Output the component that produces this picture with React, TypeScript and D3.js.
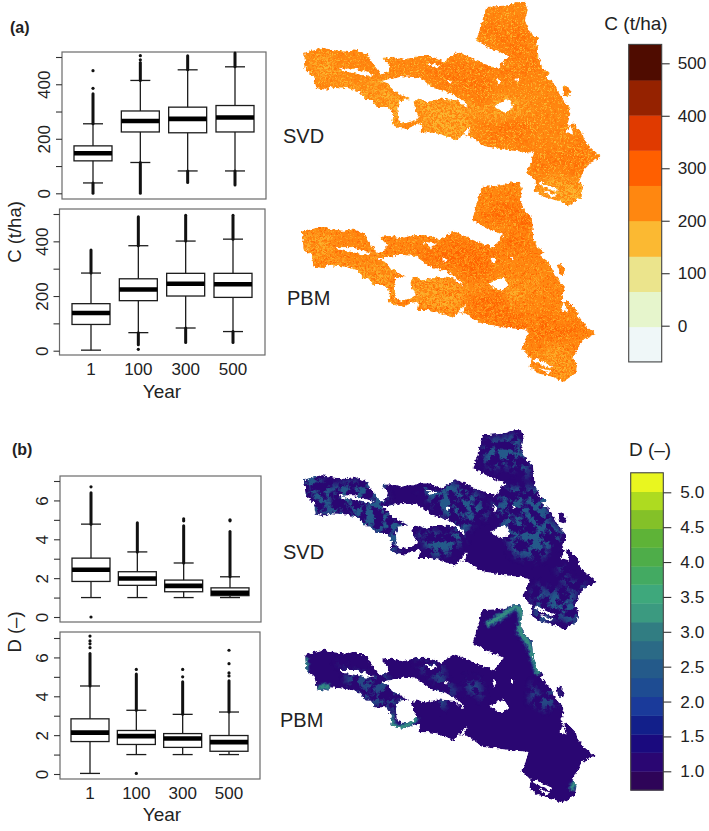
import React, { useEffect, useRef } from 'react';
import * as d3 from 'd3';

const years = ['1', '100', '300', '500'];

// each box: [lower whisker, q1, median, q3, upper whisker]
const cSvdBoxes = [[38, 119, 147, 174, 255], [113, 225, 265, 302, 414], [82, 222, 273, 316, 453], [82, 225, 278, 322, 464]];
const cPbmBoxes = [[2, 96, 138, 172, 284], [66, 183, 224, 263, 384], [83, 200, 245, 283, 401], [70, 195, 243, 283, 408]];
const dSvdBoxes = [[1, 1.83, 2.43, 3.03, 4.78], [1, 1.63, 1.98, 2.33, 3.35], [1, 1.3, 1.6, 1.9, 2.78], [1, 1.1, 1.25, 1.5, 2.07]];
const dPbmBoxes = [[0.03, 1.67, 2.13, 2.84, 4.53], [1, 1.52, 1.95, 2.24, 3.28], [1, 1.37, 1.83, 2.08, 3.07], [1, 1.17, 1.64, 1.98, 3.19]];

// stretches where the outliers overlap into a solid bar, per year
const cSvdRuns = [[[255, 365], [0, 38]], [[414, 480], [0, 113]], [[453, 505], [40, 82]], [[464, 515], [30, 82]]];
const cPbmRuns = [[[284, 368]], [[384, 490], [22, 66]], [[401, 495], [30, 83]], [[408, 495], [30, 70]]];
const dSvdRuns = [[[4.78, 6.4]], [[3.35, 4.85]], [[2.78, 4.7]], [[2.07, 4.4]]];
const dPbmRuns = [[[4.53, 6.2]], [[3.28, 5.15]], [[3.07, 4.75]], [[3.19, 4.8]]];

// single outliers, per year
const cSvdDots = [[385, 450], [490, 505], [], []];
const cPbmDots = [[], [5], [], []];
const dSvdDots = [[0, 6.7], [], [4.95, 5.05], [4.95, 5]];
const dPbmDots = [[6.5, 6.7, 6.85, 7.1], [0.03, 5.38], [5, 5.38], [5.05, 5.2, 5.68, 6.37]];

const cTicks = [0, 100, 200, 300, 400, 500];
const cTickLabels = [0, 200, 400];
const dTicks = [0, 1, 2, 3, 4, 5, 6, 7];
const dTickLabels = [0, 2, 4, 6];

const cLegendBreaks = [-69, -2, 65, 132, 200, 267, 334, 401, 468, 536];
const cLegendColors = ['#eff7f8', '#e6f5cc', '#ebe48c', '#fbb932', '#ff8710', '#ff5f00', '#e03a00', '#952200', '#4f0c00'];
const cLegendTicks = [0, 100, 200, 300, 400, 500];

const dLegendBreaks = [0.73, 1.0, 1.27, 1.53, 1.8, 2.07, 2.34, 2.61, 2.87, 3.14, 3.41, 3.68, 3.94, 4.21, 4.48, 4.75, 5.01, 5.28];
const dLegendColors = ['#2e0458', '#2a0672', '#1a0a7e', '#121f8a', '#1a3a9a', '#1e4c92', '#245a8a', '#2b6a86', '#317d82', '#3b9a80', '#3ea87c', '#43aa62', '#4ead49', '#5eb337', '#84c128', '#aedb20', '#e9f61f'];
const dLegendTicks = [1, 1.5, 2, 2.5, 3, 3.5, 4, 4.5, 5];

// the forest, in map units
const forestOutline = [
  [575, 50], [610, 48], [640, 45], [665, 36], [690, 35], [698, 60], [690, 90], [705, 125], [725, 140], [728, 170], [730, 200], [745, 235], [765, 245], [750, 255], [775, 275], [800, 320], [825, 350], [815, 390], [822, 398], [830, 390], [860, 420], [865, 440], [885, 465], [918, 492], [880, 510], [862, 540], [850, 565], [862, 580], [858, 610], [820, 635], [790, 622], [745, 610], [718, 592], [722, 565], [693, 535], [703, 520], [715, 480], [640, 472], [570, 460], [525, 430], [505, 425], [490, 445], [440, 425], [410, 420], [380, 420], [385, 395], [360, 400], [340, 410], [310, 405], [295, 395], [300, 370], [285, 345], [250, 345], [235, 325], [220, 325], [200, 300], [165, 290], [115, 285], [100, 295], [70, 290], [65, 255], [40, 235], [35, 185], [90, 170], [125, 178], [165, 182], [185, 175], [225, 190], [235, 210], [260, 245], [262, 250], [285, 240], [290, 225], [268, 200], [300, 197], [330, 205], [375, 195], [410, 195], [450, 210], [490, 182], [520, 195], [550, 210], [610, 232], [640, 195], [600, 180], [545, 150], [560, 100],
];
const channelHole = [
  [265, 268], [330, 255], [375, 258], [420, 290], [470, 305], [510, 330], [520, 350], [490, 325], [440, 320], [400, 330], [375, 320], [360, 330], [365, 355], [378, 375], [360, 385], [335, 392], [315, 385], [312, 350], [318, 325], [350, 322], [320, 305], [300, 295], [285, 275],
];
const smallHoles = [
  [[140, 232], [185, 232], [245, 250], [225, 255], [185, 245], [150, 240]],
  [[600, 340], [640, 320], [655, 345], [635, 362], [600, 345]],
  [[503, 426], [528, 402], [518, 432]],
  [[810, 420], [824, 396], [832, 426]],
  [[605, 262], [618, 270], [610, 282]],
  [[660, 262], [672, 262], [668, 274]],
  [[735, 565], [790, 590], [780, 595], [730, 572]],
  [[745, 590], [785, 605], [770, 610]],
  [[400, 215], [440, 222], [420, 230]],
  [[455, 265], [475, 270], [465, 276]],
];
const satelliteRing = [[800, 285], [812, 282], [826, 298], [820, 316], [806, 312]];

// patches of the carbon maps
const cLightPatches = [
  [[35, 185], [130, 190], [140, 260], [120, 290], [60, 290], [35, 240]],
  [[130, 250], [240, 290], [350, 320], [310, 410], [280, 400], [235, 330], [130, 285]],
  [[360, 320], [520, 330], [520, 430], [380, 425]],
  [[515, 340], [600, 310], [720, 320], [690, 380], [650, 365], [530, 360]],
  [[720, 550], [860, 560], [860, 640], [780, 630]],
  [[245, 240], [300, 240], [300, 270], [245, 270]],
];
const cDarkPatches = [
  [[380, 215], [520, 215], [610, 240], [610, 310], [520, 310], [420, 270]],
  [[530, 370], [640, 370], [710, 400], [715, 475], [570, 460]],
  [[620, 200], [730, 195], [745, 240], [640, 260]],
  [[560, 130], [690, 110], [720, 180], [640, 180]],
  [[720, 470], [860, 440], [880, 510], [830, 540], [720, 530]],
];
const cBaseValue = 235;
const cLightValue = 170;
const cSpeckleValue = 170;
const cDarkValue = 290;

// patches of the D maps
const dSvdPatches = [
  [[35, 190], [240, 190], [350, 320], [310, 410], [200, 320], [60, 290]],
  [[570, 45], [700, 35], [730, 200], [640, 170], [560, 110]],
  [[620, 190], [750, 230], [830, 360], [780, 420], [640, 370]],
  [[380, 195], [530, 195], [600, 290], [520, 340], [440, 290]],
  [[370, 330], [510, 330], [500, 420], [400, 410]],
  [[700, 530], [860, 520], [860, 620], [740, 610]],
  [[790, 450], [900, 480], [860, 530]],
];
const dPbmPatches = [
  [[125, 220], [290, 280], [350, 320], [300, 350], [200, 290]],
  [[720, 260], [810, 340], [800, 370], [720, 330]],
  [[510, 230], [580, 270], [570, 310], [510, 300]],
  [[370, 200], [440, 200], [500, 310], [440, 320]],
];
const dPbmEdgeStrips = [
  [[588, 95], [639, 65], [680, 40], [695, 70], [690, 115], [715, 150], [745, 245]],
  [[35, 195], [36, 240]],
  [[75, 285], [111, 282]],
  [[294, 365], [304, 400], [334, 405], [375, 375]],
  [[857, 570], [847, 595]],
];
const dBaseValue = 1.15;
const dPatchValue = 2.4;
const dHaloValue = 2.5;
const dStripValue = 3.4;

const carbonColor = d3.scaleThreshold<number, string>().domain(cLegendBreaks.slice(1, -1)).range(cLegendColors);
const dimColor = d3.scaleThreshold<number, string>().domain(dLegendBreaks.slice(1, -1)).range(dLegendColors);

const FONT = '"Liberation Sans", Arial, sans-serif';

function drawBoxPanel(svg: any, o: any) {
  const y = d3.scaleLinear().domain(o.domain).range(o.yRange);
  const x = d3.scalePoint<string>().domain(years).range(o.xRange);
  const g = svg.append('g');

  g.append('rect')
    .attr('x', o.frame[0]).attr('y', o.frame[2])
    .attr('width', o.frame[1] - o.frame[0]).attr('height', o.frame[3] - o.frame[2])
    .attr('fill', 'none').attr('stroke', '#6a6a6a').attr('stroke-width', 1.2);

  const axis = d3.axisLeft(y).tickValues(o.ticks).tickSize(6)
    .tickFormat((d: any) => (o.labels.includes(d) ? String(d) : ''));
  const ag = g.append('g').attr('transform', `translate(${o.frame[0]},0)`).call(axis);
  ag.select('.domain').remove();
  ag.selectAll('line').attr('stroke', '#333').attr('stroke-width', 1.1);
  ag.selectAll('text')
    .attr('x', null).attr('dy', null)
    .attr('transform', 'translate(-12,0) rotate(-90)')
    .attr('text-anchor', 'middle')
    .attr('font-family', FONT).attr('font-size', 17).attr('fill', '#222');

  years.forEach((yr, i) => {
    const cx = x(yr) as number;
    const [lo, q1, med, q3, hi] = o.boxes[i];
    const yg = g.append('g');
    yg.append('line').attr('x1', cx).attr('x2', cx).attr('y1', y(lo)).attr('y2', y(hi))
      .attr('stroke', '#1c1c1c').attr('stroke-width', 1.3);
    [lo, hi].forEach((v) => {
      yg.append('line').attr('x1', cx - 10).attr('x2', cx + 10).attr('y1', y(v)).attr('y2', y(v))
        .attr('stroke', '#1c1c1c').attr('stroke-width', 1.3);
    });
    o.runs[i].forEach(([a, b]: number[]) => {
      yg.append('line').attr('x1', cx).attr('x2', cx).attr('y1', y(a)).attr('y2', y(b))
        .attr('stroke', '#111').attr('stroke-width', 3).attr('stroke-linecap', 'round');
    });
    o.dots[i].forEach((v: number) => {
      yg.append('circle').attr('cx', cx).attr('cy', y(v)).attr('r', 1.6).attr('fill', '#111');
    });
    yg.append('rect').attr('x', cx - 19).attr('width', 38)
      .attr('y', y(q3)).attr('height', y(q1) - y(q3))
      .attr('fill', '#fff').attr('stroke', '#1c1c1c').attr('stroke-width', 1.3);
    yg.append('line').attr('x1', cx - 19).attr('x2', cx + 19).attr('y1', y(med)).attr('y2', y(med))
      .attr('stroke', '#000').attr('stroke-width', 4.6);
    if (o.xLabelY) {
      g.append('text').attr('x', cx).attr('y', o.xLabelY).attr('text-anchor', 'middle')
        .attr('font-family', FONT).attr('font-size', 17).attr('fill', '#222').text(yr);
    }
  });
}

function drawMap(svg: any, o: any) {
  const x = d3.scaleLinear().domain([35, 918]).range(o.xRange);
  const y = d3.scaleLinear().domain([35, 492]).range(o.yRange);
  const ring = d3.line().x((d: any) => x(d[0])).y((d: any) => y(d[1])).curve(d3.curveLinearClosed);
  const open = d3.line().x((d: any) => x(d[0])).y((d: any) => y(d[1])).curve(d3.curveCatmullRom);
  const forest = [forestOutline, channelHole, satelliteRing, ...smallHoles].map((r: any) => ring(r)).join('');

  svg.append('defs').append('clipPath').attr('id', `clip-${o.id}`)
    .append('path').attr('d', forest).attr('clip-rule', 'evenodd');

  const outer = svg.append('g').attr('filter', 'url(#rough)');
  const g = outer.append('g').attr('clip-path', `url(#clip-${o.id})`);
  g.append('path').attr('d', forest).attr('fill-rule', 'evenodd').attr('fill', o.base);

  o.layers.forEach((l: any) => {
    const lg = g.append('g').attr('filter', l.filter ? `url(#${l.filter})` : null).attr('opacity', l.opacity ?? 1);
    l.polys.forEach((p: any) => lg.append('path').attr('d', ring(p)).attr('fill', l.color));
    (l.strips || []).forEach((s: any) => {
      lg.append('path').attr('d', open(s)).attr('fill', 'none').attr('stroke', l.color)
        .attr('stroke-width', l.width).attr('stroke-linejoin', 'round');
    });
  });

  // scattered cells of the carbon maps
  if (o.speckle) {
    g.append('path').attr('d', forest).attr('fill-rule', 'evenodd').attr('fill', o.speckle)
      .attr('filter', 'url(#grain)').attr('opacity', o.speckleOpacity);
    g.append('path').attr('d', forest).attr('fill-rule', 'evenodd').attr('fill', o.speckleDark)
      .attr('filter', 'url(#grain2)').attr('opacity', o.speckleDarkOpacity);
  }
}

function drawLegend(svg: any, o: any) {
  const y = d3.scaleLinear().domain(o.domain).range(o.yRange);
  const g = svg.append('g');
  o.colors.forEach((c: string, i: number) => {
    g.append('rect').attr('x', o.x0).attr('width', o.x1 - o.x0)
      .attr('y', y(o.breaks[i + 1])).attr('height', y(o.breaks[i]) - y(o.breaks[i + 1]) + 0.4)
      .attr('fill', c);
  });
  g.append('rect').attr('x', o.x0).attr('width', o.x1 - o.x0)
    .attr('y', y(o.breaks[o.breaks.length - 1]))
    .attr('height', y(o.breaks[0]) - y(o.breaks[o.breaks.length - 1]))
    .attr('fill', 'none').attr('stroke', '#444').attr('stroke-width', 1.1);
  const axis = d3.axisRight(y).tickValues(o.ticks).tickSize(8).tickPadding(o.pad).tickFormat(o.fmt);
  const ag = g.append('g').attr('transform', `translate(${o.x1},0)`).call(axis);
  ag.select('.domain').remove();
  ag.selectAll('line').attr('stroke', '#333').attr('stroke-width', 1.1);
  ag.selectAll('text').attr('font-family', FONT).attr('font-size', 17.2).attr('fill', '#222');
  g.append('text').attr('x', o.titleX).attr('y', o.titleY).attr('text-anchor', 'middle')
    .attr('font-family', FONT).attr('font-size', 19).attr('fill', '#222').text(o.title);
}

function label(svg: any, text: string, x: number, y: number, size: number, extra: any = {}) {
  const t = svg.append('text').attr('x', x).attr('y', y)
    .attr('font-family', FONT).attr('font-size', size).attr('fill', '#222').text(text);
  Object.keys(extra).forEach((k) => t.attr(k, extra[k]));
}

export default function App() {
  const ref = useRef<SVGSVGElement>(null);

  useEffect(() => {
    const svg = d3.select(ref.current);
    svg.selectAll('g, text').remove();

    drawBoxPanel(svg, { frame: [62, 266, 52, 199], domain: [0, 500], yRange: [193.3, 57], xRange: [93, 235], ticks: cTicks, labels: cTickLabels, boxes: cSvdBoxes, runs: cSvdRuns, dots: cSvdDots });
    drawBoxPanel(svg, { frame: [59.5, 265, 209, 355], domain: [0, 500], yRange: [350.7, 214], xRange: [91, 233], ticks: cTicks, labels: cTickLabels, boxes: cPbmBoxes, runs: cPbmRuns, dots: cPbmDots, xLabelY: 375 });
    drawBoxPanel(svg, { frame: [60, 261, 476, 622], domain: [0, 7], yRange: [617, 481], xRange: [91, 230], ticks: dTicks, labels: dTickLabels, boxes: dSvdBoxes, runs: dSvdRuns, dots: dSvdDots });
    drawBoxPanel(svg, { frame: [60, 260, 632, 779], domain: [0, 7], yRange: [774, 638], xRange: [90, 229], ticks: dTicks, labels: dTickLabels, boxes: dPbmBoxes, runs: dPbmRuns, dots: dPbmDots, xLabelY: 799 });

    const cLayersSvd = [
      { polys: cLightPatches, color: carbonColor(cLightValue), filter: 'wash', opacity: 0.95 },
      { polys: cDarkPatches, color: carbonColor(cDarkValue), filter: 'wash', opacity: 0.55 },
    ];
    const cLayersPbm = [
      { polys: cLightPatches, color: carbonColor(cLightValue), filter: 'wash', opacity: 0.8 },
      { polys: cDarkPatches, color: carbonColor(cDarkValue), filter: 'wash', opacity: 0.85 },
    ];
    drawMap(svg, { id: 'a1', xRange: [304, 602], yRange: [1.7, 157], base: carbonColor(cBaseValue), layers: cLayersSvd, speckle: carbonColor(cSpeckleValue), speckleOpacity: 0.95, speckleDark: carbonColor(cDarkValue), speckleDarkOpacity: 0.35 });
    drawMap(svg, { id: 'a2', xRange: [301.7, 596], yRange: [181.7, 334], base: carbonColor(cBaseValue), layers: cLayersPbm, speckle: carbonColor(cSpeckleValue), speckleOpacity: 0.7, speckleDark: carbonColor(cDarkValue), speckleDarkOpacity: 0.7 });
    drawMap(svg, { id: 'b1', xRange: [304, 597], yRange: [430, 582], base: dimColor(dBaseValue), layers: [{ polys: dSvdPatches, color: dimColor(dPatchValue), filter: 'mottle' }] });
    drawMap(svg, { id: 'b2', xRange: [305, 595], yRange: [605, 756], base: dimColor(dBaseValue), layers: [
      { polys: dPbmPatches, color: dimColor(dPatchValue), filter: 'mottle', opacity: 0.8 },
      { polys: [], strips: dPbmEdgeStrips, color: dimColor(dHaloValue), width: 7, filter: 'soft' },
      { polys: [], strips: dPbmEdgeStrips, color: dimColor(dStripValue), width: 3, filter: 'soft' },
    ] });

    drawLegend(svg, { x0: 628.7, x1: 661.7, domain: [0, 500], yRange: [325.7, 63.3], breaks: cLegendBreaks, colors: cLegendColors, ticks: cLegendTicks, fmt: (d: any) => String(d), pad: 8, title: 'C (t/ha)', titleX: 636, titleY: 30 });
    drawLegend(svg, { x0: 630.7, x1: 663.3, domain: [1, 5], yRange: [771.3, 492.3], breaks: dLegendBreaks, colors: dLegendColors, ticks: dLegendTicks, fmt: d3.format('.1f'), pad: 9, title: 'D (–)', titleX: 650, titleY: 456 });

    label(svg, '(a)', 10, 33, 16, { 'font-weight': 'bold' });
    label(svg, '(b)', 12, 455, 16, { 'font-weight': 'bold' });
    label(svg, 'SVD', 283, 143, 20);
    label(svg, 'PBM', 287, 305, 20);
    label(svg, 'SVD', 283, 559, 20);
    label(svg, 'PBM', 280, 727, 20);
    label(svg, 'Year', 162, 398, 19, { 'text-anchor': 'middle' });
    label(svg, 'Year', 162, 821, 19, { 'text-anchor': 'middle' });
    label(svg, 'C (t/ha)', 21, 232, 18.5, { 'text-anchor': 'middle', transform: 'rotate(-90 21 232)' });
    label(svg, 'D (–)', 21, 632, 18.5, { 'text-anchor': 'middle', transform: 'rotate(-90 21 632)' });
  }, []);

  const region = { filterUnits: 'userSpaceOnUse', x: 280, y: 0, width: 340, height: 831, colorInterpolationFilters: 'sRGB' } as any;

  return (
    <svg ref={ref} width={709} height={831} style={{ position: 'absolute', left: 0, top: 0, background: '#fff' }}>
      <defs>
        {/* edge roughness of the raster map */}
        <filter id="rough" {...region}>
          <feTurbulence type="fractalNoise" baseFrequency="0.3" numOctaves={2} seed={4} result="n" />
          <feDisplacementMap in="SourceGraphic" in2="n" scale={5} xChannelSelector="R" yChannelSelector="G" />
          <feGaussianBlur stdDeviation={0.55} />
        </filter>
        {/* blotchy break-up of the D patches, with irregular soft borders */}
        <filter id="mottle" {...region}>
          <feTurbulence type="fractalNoise" baseFrequency="0.035" numOctaves={2} seed={5} result="warp" />
          <feDisplacementMap in="SourceGraphic" in2="warp" scale={35} xChannelSelector="R" yChannelSelector="G" />
          <feGaussianBlur stdDeviation={3} result="src" />
          <feTurbulence type="fractalNoise" baseFrequency="0.12" numOctaves={4} seed={9} />
          <feColorMatrix values="0 0 0 0 0  0 0 0 0 0  0 0 0 0 0  7 0 0 0 -3.2" result="m" />
          <feComposite in="src" in2="m" operator="in" />
        </filter>
        {/* broken but mostly covering, for the carbon patches */}
        <filter id="wash" {...region}>
          <feTurbulence type="fractalNoise" baseFrequency="0.03" numOctaves={2} seed={7} result="warp" />
          <feDisplacementMap in="SourceGraphic" in2="warp" scale={40} xChannelSelector="R" yChannelSelector="G" />
          <feGaussianBlur stdDeviation={4} result="src" />
          <feTurbulence type="fractalNoise" baseFrequency="0.4" numOctaves={2} seed={21} />
          <feColorMatrix values="0 0 0 0 0  0 0 0 0 0  0 0 0 0 0  8 0 0 0 -3.6" result="m" />
          <feComposite in="src" in2="m" operator="in" />
        </filter>
        <filter id="soft" {...region}>
          <feGaussianBlur stdDeviation={1.2} />
        </filter>
        {/* cell-sized grain of the carbon maps */}
        <filter id="grain" {...region}>
          <feTurbulence type="fractalNoise" baseFrequency="0.7" numOctaves={1} seed={2} />
          <feColorMatrix values="0 0 0 0 0  0 0 0 0 0  0 0 0 0 0  9 0 0 0 -5" result="m" />
          <feComposite in="SourceGraphic" in2="m" operator="in" />
        </filter>
        <filter id="grain2" {...region}>
          <feTurbulence type="fractalNoise" baseFrequency="0.6" numOctaves={1} seed={13} />
          <feColorMatrix values="0 0 0 0 0  0 0 0 0 0  0 0 0 0 0  9 0 0 0 -5" result="m" />
          <feComposite in="SourceGraphic" in2="m" operator="in" />
        </filter>
      </defs>
    </svg>
  );
}
